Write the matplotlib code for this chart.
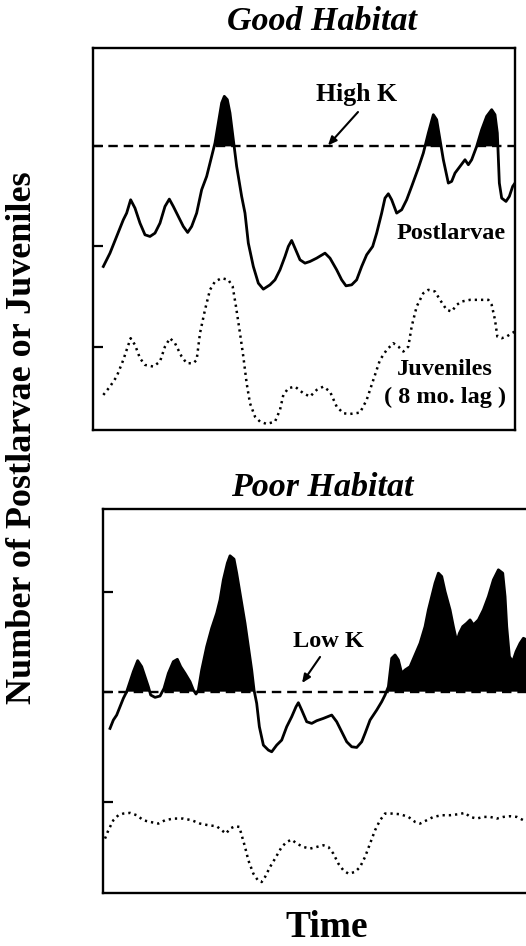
import matplotlib.pyplot as plt

# good habitat (time, abundance - arbitrary units)
good_t_post = [3.0, 5.0, 7.0, 9.0, 10.0, 11.2, 12.5, 14.0, 15.5, 17.0, 18.5, 20.0, 21.5, 22.8, 24.0, 25.5, 27.0, 28.3,
               29.5, 31.0, 32.5, 34.0, 35.5, 36.5, 37.5, 38.5, 39.3, 40.2, 41.0, 42.0, 43.0, 44.5, 45.5, 46.5, 48.0,
               49.5, 51.0, 53.0, 54.5, 56.0, 57.5, 58.5, 59.5, 60.5, 62.0, 63.5, 65.0, 67.0, 69.5, 71.0, 73.0, 74.5,
               75.8, 77.5, 79.0, 80.5, 82.0, 83.8, 85.0, 86.5, 87.5, 88.5, 89.5, 91.0, 92.5, 94.0, 95.5, 97.5, 99.0,
               100.5, 102.0, 103.0, 104.0, 105.0, 106.5, 107.5, 108.5, 110.0, 111.5, 112.5, 113.5, 115.0, 116.5,
               118.0, 119.5, 120.5, 121.2, 121.8, 122.5, 123.8, 124.8, 125.8, 126.5]
good_postlarvae = [54.0, 58.0, 63.0, 68.0, 70.0, 74.0, 71.5, 67.0, 63.5, 63.0, 64.0, 67.0, 72.0, 74.2, 72.0, 69.0, 66.0,
                   64.2, 66.0, 70.0, 77.0, 81.0, 87.0, 91.0, 97.0, 103.0, 105.0, 104.0, 100.0, 92.0, 84.0, 75.0, 70.0,
                   61.0, 54.0, 49.0, 47.2, 48.5, 50.0, 53.0, 57.0, 60.0, 61.8, 59.5, 56.0, 55.0, 55.5, 56.5, 58.0, 56.5,
                   53.0, 50.0, 48.2, 48.5, 50.0, 54.0, 57.5, 60.0, 64.0, 70.0, 74.5, 75.8, 74.0, 70.0, 71.0, 74.0, 78.0,
                   83.5, 88.0, 94.0, 99.5, 98.0, 92.0, 86.0, 79.0, 79.5, 82.0, 84.0, 86.0, 84.5, 86.0, 90.0, 95.0, 99.0,
                   101.0, 99.5, 94.0, 79.0, 74.5, 73.5, 75.0, 78.0, 79.0]
good_t_juv = [3.0, 5.0, 7.0, 9.0, 10.0, 11.2, 12.5, 14.0, 15.5, 18.0, 20.0, 21.5, 23.0, 24.5, 26.5, 28.0, 30.0, 31.0,
              32.0, 33.5, 35.0, 36.5, 38.5, 40.5, 41.8, 42.8, 44.0, 45.0, 46.0, 47.0, 48.5, 50.0, 52.0, 54.5, 56.0,
              57.0, 58.5, 60.5, 63.0, 65.0, 67.0, 69.0, 71.0, 73.0, 75.0, 77.0, 80.0, 82.0, 84.0, 86.0, 88.0, 90.0,
              91.5, 93.0, 94.5, 95.5, 97.0, 99.0, 100.5, 102.5, 104.0, 106.0, 107.5, 109.0, 110.5, 113.0, 116.0,
              118.5, 119.5, 120.5, 121.2, 122.5, 124.0, 125.5, 126.5]
good_juveniles = [15.5, 18.0, 21.0, 26.0, 29.0, 32.5, 30.5, 26.5, 24.5, 24.0, 25.5, 30.0, 32.5, 31.0, 27.0, 25.0, 25.0,
                  26.0, 34.0, 41.0, 47.0, 49.5, 50.5, 50.0, 48.0, 42.0, 34.0, 27.0, 19.0, 13.0, 9.0, 7.5, 6.8, 7.5,
                  11.0, 15.5, 17.5, 18.0, 16.0, 15.0, 17.0, 18.0, 16.5, 12.0, 10.0, 9.8, 10.2, 14.0, 20.0, 26.0, 29.0,
                  31.0, 30.0, 28.5, 30.0, 36.0, 42.0, 46.0, 47.0, 46.5, 44.0, 41.0, 40.5, 42.5, 43.5, 44.0, 44.0, 44.0,
                  42.5, 38.0, 33.0, 32.5, 33.0, 34.0, 34.5]
high_k = 90

# poor habitat
poor_t_post = [2.2, 3.2, 4.2, 5.2, 6.2, 7.2, 8.2, 9.2, 10.5, 11.7, 12.7, 13.7, 14.4, 15.7, 17.2, 18.4, 19.7, 21.2, 22.4,
               23.4, 24.7, 26.2, 27.2, 28.0, 28.7, 29.7, 31.2, 32.7, 34.2, 35.2, 36.2, 37.4, 38.2, 39.4, 40.2, 41.7,
               42.7, 43.7, 44.7, 45.4, 46.2, 47.0, 48.2, 49.7, 50.7, 52.2, 53.7, 55.2, 56.7, 58.0, 58.7, 59.7, 61.2,
               62.7, 64.2, 66.2, 68.7, 70.2, 71.7, 73.2, 74.7, 76.2, 77.7, 78.7, 80.2, 82.2, 83.7, 84.7, 85.7, 86.7,
               87.7, 88.7, 89.7, 90.7, 92.2, 93.7, 95.2, 96.7, 97.7, 98.7, 99.7, 100.7, 101.7, 102.7, 104.2, 105.2,
               106.2, 107.0, 108.0, 109.2, 110.2, 111.2, 112.7, 114.2, 115.7, 117.2, 118.7, 120.0, 120.7, 121.2, 122.0,
               123.0, 124.0, 125.2, 126.2, 127.2]
poor_postlarvae = [49.0, 51.5, 53.0, 55.5, 58.0, 60.0, 63.0, 66.0, 69.3, 67.5, 64.5, 61.5, 59.0, 58.3, 58.7, 61.0, 65.5,
                   69.0, 69.7, 67.5, 65.5, 63.0, 60.5, 59.3, 60.5, 66.5, 73.5, 79.0, 83.5, 87.5, 93.5, 98.5, 100.7, 99.7,
                   95.5, 86.5, 80.5, 73.5, 66.5, 60.5, 56.5, 49.5, 44.0, 42.5, 42.0, 44.0, 45.5, 49.5, 52.5, 55.5, 56.7,
                   54.5, 51.0, 50.5, 51.3, 52.0, 53.0, 51.0, 48.0, 45.0, 43.5, 43.3, 45.0, 47.5, 51.5, 54.5, 57.0, 59.0,
                   61.5, 70.0, 71.0, 69.5, 65.5, 66.5, 67.5, 71.0, 74.5, 79.5, 84.5, 88.5, 92.5, 95.5, 94.5, 90.0, 84.5,
                   79.5, 75.0, 77.5, 79.5, 80.5, 81.5, 80.0, 81.5, 84.5, 88.5, 93.5, 96.5, 95.5, 88.5, 79.5, 70.5, 69.0,
                   72.0, 74.5, 76.0, 75.5]
poor_t_juv = [0.7, 1.7, 3.2, 4.7, 6.2, 8.2, 10.2, 12.2, 14.2, 16.7, 18.7, 21.2, 24.2, 26.7, 29.2, 31.7, 34.2, 35.7, 37.0,
              38.2, 39.7, 41.0, 41.7, 42.7, 43.7, 45.2, 46.7, 47.7, 48.7, 50.2, 51.7, 53.7, 55.2, 56.7, 58.2, 60.2,
              62.2, 64.2, 66.2, 67.7, 69.2, 70.7, 72.2, 73.7, 75.7, 77.2, 78.7, 80.2, 81.7, 83.2, 84.7, 86.7, 89.2,
              91.7, 93.7, 95.2, 97.2, 99.2, 101.7, 104.2, 106.7, 108.7, 110.2, 112.2, 114.2, 116.2, 118.2, 120.2,
              122.2, 124.2, 126.2, 127.2]
poor_juveniles = [16.0, 18.5, 21.5, 23.0, 23.5, 23.7, 23.0, 21.5, 21.0, 20.5, 21.5, 22.0, 22.0, 21.5, 20.5, 20.0, 19.7,
                  18.5, 17.5, 19.0, 19.7, 19.5, 17.0, 13.5, 9.5, 5.5, 3.3, 3.0, 4.5, 7.5, 10.0, 13.5, 15.0, 15.7, 14.5,
                  13.5, 13.0, 13.5, 14.0, 13.5, 11.5, 8.5, 6.5, 5.5, 6.0, 7.5, 10.5, 14.5, 18.5, 21.5, 23.5, 23.5, 23.3,
                  22.5, 21.0, 20.5, 21.5, 22.5, 23.0, 23.0, 23.3, 23.7, 22.5, 22.0, 22.5, 22.5, 22.0, 22.5, 22.7, 22.5,
                  21.5, 21.0]
low_k = 60

serif = "Liberation Serif"

fig = plt.figure(figsize=(5.26, 9.46), dpi=100)
ax1 = fig.add_axes([0.1774, 0.5455, 0.8017, 0.4038])
ax2 = fig.add_axes([0.1952, 0.0560, 0.8100, 0.4059])


def panel(ax, t_post, post, t_juv, juv, k, xmax, ylim, yticks):
    ax.fill_between(t_post, post, k, where=[p > k for p in post], interpolate=True, color="black", lw=0)
    ax.axhline(k, color="black", lw=1.7, linestyle=(0, (4, 2.5)))
    ax.plot(t_post, post, color="black", lw=2.0)
    ax.plot(t_juv, juv, color="black", lw=1.8, linestyle=(0, (0.9, 1.6)))
    ax.set_xlim(0, xmax)
    ax.set_ylim(*ylim)
    ax.set_xticks([])
    ax.set_yticks(yticks)
    ax.set_yticklabels([])
    ax.tick_params(axis="y", direction="in", length=7, width=1.6)
    for s in ax.spines.values():
        s.set_linewidth(1.7)


panel(ax1, good_t_post, good_postlarvae, good_t_juv, good_juveniles, high_k, 126.5, (5.0, 119.5), [30, 60, 90])
panel(ax2, poor_t_post, poor_postlarvae, poor_t_juv, poor_juveniles, low_k, 127.8, (-0.3, 114.7), [27, 60, 90])

fig.text(0.612, 0.977, "Good Habitat", fontsize=24.5, fontweight="bold", fontstyle="italic", family=serif,
         ha="center", va="center")
fig.text(0.612, 0.485, "Poor Habitat", fontsize=24.5, fontweight="bold", fontstyle="italic", family=serif,
         ha="center", va="center")

arrow = dict(arrowstyle="-|>,head_length=0.5,head_width=0.22", color="black", lw=1.5, shrinkA=0, shrinkB=0)
ax1.text(79.1, 105.5, "High K", fontsize=18.5, fontweight="bold", family=serif, ha="center", va="center")
ax1.annotate("", xy=(70.4, 90.3), xytext=(79.4, 100.3), arrowprops=arrow)
ax1.text(107.3, 64.0, "Postlarvae", fontsize=17.5, fontweight="bold", family=serif, ha="center", va="center")
ax1.text(105.5, 23.0, "Juveniles", fontsize=17.5, fontweight="bold", family=serif, ha="center", va="center")
ax1.text(105.5, 14.9, "( 8 mo. lag )", fontsize=17.5, fontweight="bold", family=serif, ha="center", va="center")

ax2.text(67.6, 74.9, "Low K", fontsize=17.5, fontweight="bold", family=serif, ha="center", va="center")
ax2.annotate("", xy=(59.8, 62.6), xytext=(65.2, 70.4), arrowprops=arrow)

fig.text(0.042, 0.5375, "Number of Postlarvae or Juveniles", rotation=90, fontsize=26, fontweight="bold",
         family=serif, ha="center", va="center")
fig.text(0.622, 0.02, "Time", fontsize=27, fontweight="bold", family=serif, ha="center", va="center")

fig.savefig("out.png", dpi=100)
